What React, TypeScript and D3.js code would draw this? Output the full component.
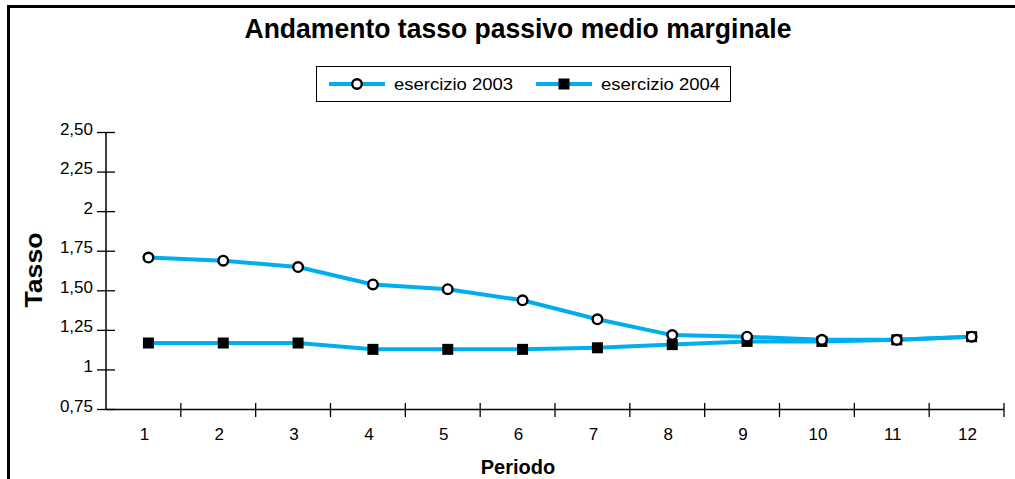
import * as d3 from "d3";
import { useEffect, useRef } from "react";

const W = 1015;
const H = 479;

const PERIODS = ["1", "2", "3", "4", "5", "6", "7", "8", "9", "10", "11", "12"];
const TASSO_2003 = [1.71, 1.69, 1.65, 1.54, 1.51, 1.44, 1.32, 1.22, 1.21, 1.19, 1.19, 1.21];
const TASSO_2004 = [1.17, 1.17, 1.17, 1.13, 1.13, 1.13, 1.14, 1.16, 1.18, 1.18, 1.19, 1.21];
const Y_TICKS = [0.75, 1, 1.25, 1.5, 1.75, 2, 2.25, 2.5];
const SERIES_NAMES = ["esercizio 2003", "esercizio 2004"];

const FONT = "'Liberation Sans', Arial, Helvetica, sans-serif";
const LINE_COLOR = "#00aeef";

// Italian style tick labels: 0,75 / 1 / 1,25 / 2 / 2,50
function fmtTick(v: number) {
  if (Number.isInteger(v)) return String(v);
  return v.toFixed(2).replace(".", ",");
}

export default function App() {
  const ref = useRef<SVGSVGElement | null>(null);

  useEffect(() => {
    const svg = d3.select(ref.current);
    svg.selectAll("*").remove();

    svg.append("rect").attr("width", W).attr("height", H).attr("fill", "#fff");

    // outer frame (only top and left visible)
    svg
      .append("path")
      .attr("d", `M8.5,${H} V6.5 H${W}`)
      .attr("fill", "none")
      .attr("stroke", "#000")
      .attr("stroke-width", 3);

    const x = d3.scaleBand().domain(PERIODS).range([106, 1004]).padding(0);
    const y = d3.scaleLinear().domain([0.75, 2.5]).range([409.5, 132.5]);
    const bw = x.bandwidth();
    const px = (p: string) => (x(p) ?? 0) + bw / 2 + 5;

    // title
    svg
      .append("text")
      .attr("x", 518)
      .attr("y", 38)
      .attr("text-anchor", "middle")
      .attr("font-family", FONT)
      .attr("font-weight", "bold")
      .attr("font-size", 27)
      .attr("textLength", 547)
      .attr("lengthAdjust", "spacingAndGlyphs")
      .text("Andamento tasso passivo medio marginale");

    // y axis
    const yAxis = svg.append("g").attr("font-family", FONT);
    yAxis
      .append("line")
      .attr("x1", 106)
      .attr("x2", 106)
      .attr("y1", y(2.5))
      .attr("y2", y(0.75))
      .attr("stroke", "#000")
      .attr("stroke-width", 1.5);
    Y_TICKS.forEach((t) => {
      yAxis
        .append("line")
        .attr("x1", 97)
        .attr("x2", 115)
        .attr("y1", y(t))
        .attr("y2", y(t))
        .attr("stroke", "#000")
        .attr("stroke-width", 1.3);
      yAxis
        .append("text")
        .attr("x", 93)
        .attr("y", y(t) + 2)
        .attr("text-anchor", "end")
        .attr("font-size", 17)
        .attr("fill", "#000")
        .text(fmtTick(t));
    });

    // x axis
    const xAxis = svg.append("g").attr("font-family", FONT);
    xAxis
      .append("line")
      .attr("x1", 106)
      .attr("x2", 1004)
      .attr("y1", y(0.75))
      .attr("y2", y(0.75))
      .attr("stroke", "#000")
      .attr("stroke-width", 1.5);
    const bounds = PERIODS.map((p) => x(p) ?? 0).concat([x.range()[1]]);
    bounds.slice(1).forEach((bx) => {
      xAxis
        .append("line")
        .attr("x1", bx)
        .attr("x2", bx)
        .attr("y1", 403)
        .attr("y2", 417)
        .attr("stroke", "#000")
        .attr("stroke-width", 1.3);
    });
    PERIODS.forEach((p) => {
      xAxis
        .append("text")
        .attr("x", (x(p) ?? 0) + bw / 2 + 1)
        .attr("y", 439.5)
        .attr("text-anchor", "middle")
        .attr("font-size", 17)
        .text(p);
    });

    // axis titles
    svg
      .append("text")
      .attr("x", 518)
      .attr("y", 474)
      .attr("text-anchor", "middle")
      .attr("font-family", FONT)
      .attr("font-weight", "bold")
      .attr("font-size", 20)
      .text("Periodo");
    svg
      .append("text")
      .attr("transform", "translate(42,270) rotate(-90)")
      .attr("text-anchor", "middle")
      .attr("font-family", FONT)
      .attr("font-weight", "bold")
      .attr("font-size", 23)
      .attr("textLength", 75)
      .attr("lengthAdjust", "spacingAndGlyphs")
      .text("Tasso");

    // lines
    const line = d3
      .line<number>()
      .x((_, i) => px(PERIODS[i]))
      .y((d) => y(d));

    [TASSO_2004, TASSO_2003].forEach((vals) => {
      svg
        .append("path")
        .attr("d", line(vals))
        .attr("fill", "none")
        .attr("stroke", LINE_COLOR)
        .attr("stroke-width", 4)
        .attr("stroke-linejoin", "round");
    });

    // markers: squares for 2004, circles for 2003
    svg
      .append("g")
      .selectAll("rect")
      .data(TASSO_2004)
      .join("rect")
      .attr("x", (_, i) => px(PERIODS[i]) - 5.5)
      .attr("y", (d) => y(d) - 5.5)
      .attr("width", 11)
      .attr("height", 11)
      .attr("fill", "#000");

    svg
      .append("g")
      .selectAll("circle")
      .data(TASSO_2003)
      .join("circle")
      .attr("cx", (_, i) => px(PERIODS[i]))
      .attr("cy", (d) => y(d))
      .attr("r", 4.8)
      .attr("fill", "#fff")
      .attr("stroke", "#000")
      .attr("stroke-width", 2.4);

    // legend
    const lg = svg.append("g").attr("font-family", FONT);
    lg.append("rect")
      .attr("x", 316.5)
      .attr("y", 66.5)
      .attr("width", 414)
      .attr("height", 35)
      .attr("fill", "#fff")
      .attr("stroke", "#000")
      .attr("stroke-width", 1);
    const items = [
      { x0: 329, name: SERIES_NAMES[0], tx: 394, kind: "circle" },
      { x0: 536, name: SERIES_NAMES[1], tx: 601, kind: "square" },
    ];
    items.forEach((it) => {
      const cy = 84;
      lg.append("line")
        .attr("x1", it.x0)
        .attr("x2", it.x0 + 56)
        .attr("y1", cy)
        .attr("y2", cy)
        .attr("stroke", LINE_COLOR)
        .attr("stroke-width", 4);
      const mx = it.x0 + 28;
      if (it.kind === "circle") {
        lg.append("circle")
          .attr("cx", mx)
          .attr("cy", cy)
          .attr("r", 4.8)
          .attr("fill", "#fff")
          .attr("stroke", "#000")
          .attr("stroke-width", 2.4);
      } else {
        lg.append("rect")
          .attr("x", mx - 5.5)
          .attr("y", cy - 5.5)
          .attr("width", 11)
          .attr("height", 11)
          .attr("fill", "#000");
      }
      lg.append("text")
        .attr("x", it.tx)
        .attr("y", 89.5)
        .attr("font-size", 17)
        .attr("textLength", 119)
        .attr("lengthAdjust", "spacingAndGlyphs")
        .text(it.name);
    });
  }, []);

  return (
    <div style={{ position: "absolute", left: 0, top: 0 }}>
      <svg ref={ref} width={W} height={H} viewBox={`0 0 ${W} ${H}`} style={{ display: "block" }} />
    </div>
  );
}
